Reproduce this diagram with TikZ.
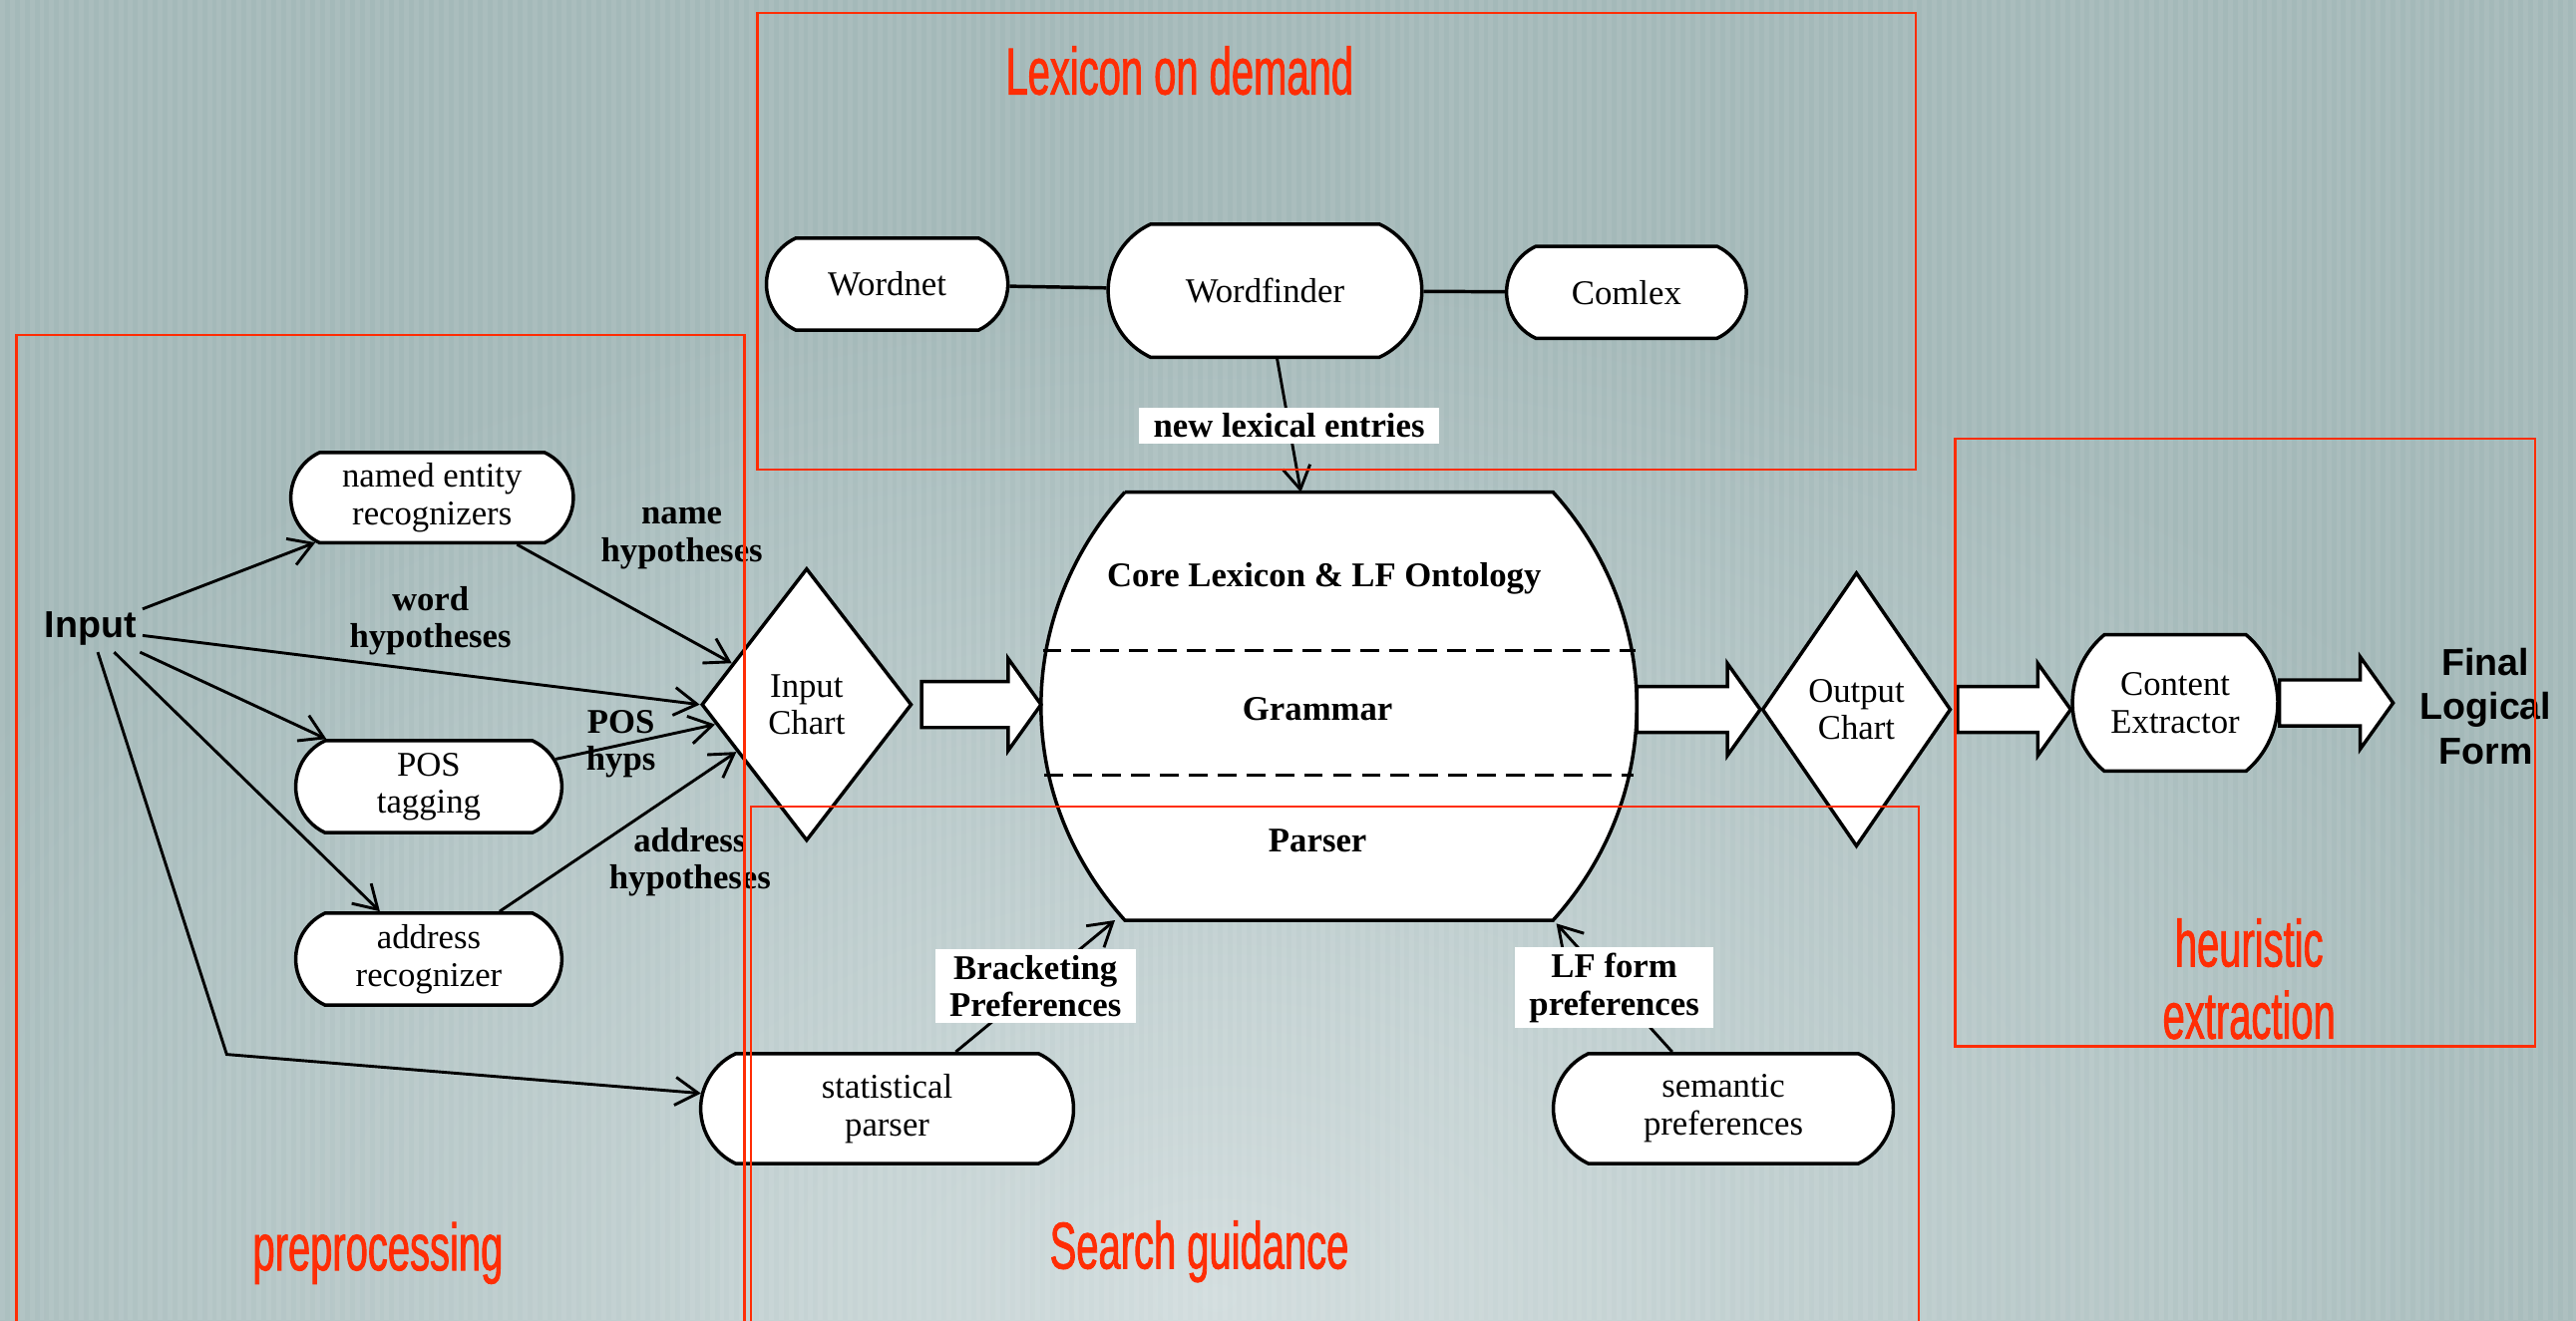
\documentclass[tikz,border=0pt]{standalone}
\usepackage{fontspec}
\setmainfont{Liberation Serif}
\newfontfamily\labelsans{Liberation Sans}
\newfontfamily\regionfont[FakeStretch=0.6, FakeBold=1.2]{Liberation Sans}
\usetikzlibrary{shapes.geometric,shapes.misc,arrows.meta,calc}

\definecolor{bgdark}{RGB}{164,185,185}
\definecolor{bglight}{RGB}{210,221,222}
\definecolor{regionred}{RGB}{255,45,5}

% white block arrow from #1 (shaft start) to #2 (tip)
\newcommand{\fatarrow}[2]{%
  \draw[fatarr] let \p1=#1, \p2=#2 in
    (\x1,\y1+0.28cm) -- (\x2-0.4cm,\y1+0.28cm) -- (\x2-0.4cm,\y1+0.56cm)
    -- (\x2,\y1) -- (\x2-0.4cm,\y1-0.56cm) -- (\x2-0.4cm,\y1-0.28cm)
    -- (\x1,\y1-0.28cm) -- cycle;}

\begin{document}
\begin{tikzpicture}[x=0.02cm, y=-0.02cm,
    box/.style={rounded rectangle, rounded rectangle arc length=130, draw,
      line width=1.2pt, fill=white, inner sep=0pt, align=center,
      font=\fontsize{12}{13}\selectfont},
    chart/.style={diamond, draw, line width=1.2pt, fill=white, inner sep=0pt,
      align=center, font=\fontsize{12}{13}\selectfont},
    region/.style={draw=regionred, line width=0.9pt},
    regionlabel/.style={text=regionred, font=\regionfont\fontsize{23}{25}\selectfont, align=center},
    hyp/.style={font=\bfseries\fontsize{12}{13}\selectfont, align=center, inner sep=0pt},
    pref/.style={hyp, fill=white, inner xsep=5pt, inner ysep=2pt},
    arr/.style={-{Straight Barb[length=2.8mm,width=3.4mm]}, line width=1pt},
    link/.style={line width=1.2pt},
    fatarr/.style={line width=1.2pt, fill=white, line join=miter}
  ]
    \useasboundingbox (0,0) rectangle (1568,804);

    % Background
    \fill[bgdark] (0,0) rectangle (1568,804);
    \begin{scope}
      \clip (0,0) rectangle (1568,804);
      \shade[inner color=bglight, outer color=bgdark] (740,790) ellipse (900 and 620);
      \foreach \x in {0,6,...,1566} {
          \fill[white, opacity=0.07] (\x,0) rectangle ++(3,804);
        }
    \end{scope}

    % Lexicon nodes
    \node[box, minimum width=2.94cm, minimum height=1.12cm] (wordnet) at (540,173) {Wordnet};
    \node[box, minimum width=3.82cm, minimum height=1.62cm] (wordfinder) at (770,177) {Wordfinder};
    \node[box, minimum width=2.92cm, minimum height=1.12cm] (comlex) at (990,178) {Comlex};

    % Preprocessing nodes
    \node[font=\labelsans\bfseries\fontsize{13}{15}\selectfont, inner sep=2pt] (inp) at (55,383) {Input};
    \node[box, minimum width=3.44cm, minimum height=1.1cm] (ner) at (263,303) {named entity\\recognizers};
    \node[box, minimum width=3.24cm, minimum height=1.12cm] (pos) at (261,479) {POS\\tagging};
    \node[box, minimum width=3.24cm, minimum height=1.12cm] (addr) at (261,584) {address\\recognizer};

    % Charts and core
    \node[chart, minimum width=2.56cm, minimum height=3.32cm] (ichart) at (491,429) {Input\\Chart};
    \node[minimum width=5.2cm, minimum height=5.2cm, inner sep=0pt] (core) at (815,430) {};
    \draw[line width=1.2pt, fill=white] (core.north west) -- (core.north east)
      to[bend left=42] (core.south east) -- (core.south west)
      to[bend left=42] (core.north west);
    \coordinate (corewest) at ($(core.west)+(-51,0)$);
    \coordinate (coreeast) at ($(core.east)+(51,0)$);
    \node[hyp] (corelex) at (806,352) {Core Lexicon \& LF Ontology};
    \node[hyp] (grammar) at (802,432) {Grammar};
    \node[hyp] (parser) at (802,512) {Parser};
    \draw[line width=1.2pt, dash pattern=on 6.5pt off 3.5pt] ($(corewest)+(1,-34)$) -- ($(coreeast)+(-1,-34)$);
    \draw[line width=1.2pt, dash pattern=on 6.5pt off 3.5pt] ($(corewest)+(2,42)$) -- ($(coreeast)+(-2,42)$);
    \node[chart, minimum width=2.3cm, minimum height=3.34cm] (ochart) at (1130,432) {Output\\Chart};

    % Extraction
    \node[box, rounded rectangle arc length=100, minimum width=2.5cm, minimum height=1.66cm] (extract) at (1324,428) {Content\\Extractor};
    \node[font=\labelsans\bfseries\fontsize{13}{15.3}\selectfont, align=center, inner sep=0pt] (final) at (1513,430) {Final\\Logical\\Form};

    % Search guidance nodes
    \node[box, minimum width=4.54cm, minimum height=1.34cm] (stat) at (540,675) {statistical\\parser};
    \node[box, minimum width=4.14cm, minimum height=1.34cm] (sem) at (1049,675) {semantic\\preferences};

    % Block arrows
    \fatarrow{($(ichart.east)+(5,0)$)}{(corewest)}
    \fatarrow{(coreeast |- ochart.west)}{(ochart.west)}
    \fatarrow{($(ochart.east)+(3,0)$)}{(extract.west)}
    \fatarrow{(extract.east)}{($(final.west)+(-16,0)$)}

    % Connectors
    \draw[link] (wordnet) -- (wordfinder);
    \draw[link] (wordfinder) -- (comlex);
    \draw[arr] (wordfinder) -- (core) node[pref, midway] (newlex) {new lexical entries};

    \draw[arr] (inp) -- (ner);
    \draw[arr] (inp) -- (ichart.west);
    \draw[arr] (inp) -- (pos);
    \draw[arr] (inp) -- (addr);
    \coordinate (statbend) at (138,642);
    \draw[arr] (inp) -- (statbend) -- (stat);

    \draw[arr] (ner) -- (ichart);
    \draw[arr] (pos) -- (ichart);
    \draw[arr] (addr) -- (ichart);

    \draw[arr] (stat) -- ($(core.south west)+(-6,0)$) node[pref, midway] (bracket) {Bracketing\\Preferences};
    \draw[arr] (sem) -- ($(core.south east)+(2,2)$) node[pref, midway] (lfpref) {LF form\\preferences};

    % Edge labels
    \node[hyp] (namehyp) at (415,328) {name\\hypotheses};
    \node[hyp] (wordhyp) at (262,378) {word\\hypotheses};
    \node[hyp] (poshyp) at (378,453) {POS\\hyps};
    \node[hyp] (addrhyp) at (420,525) {address\\hypotheses};

    % Regions
    \draw[region] (10,204) rectangle (453,812);
    \draw[region] (461,8) rectangle (1166,286);
    \draw[region] (457,491) rectangle (1168,812);
    \draw[region] (1190,267) rectangle (1543,637);
    \node[regionlabel] (lexlab) at (718,43) {Lexicon on demand};
    \node[regionlabel] (prelab) at (230,763) {preprocessing};
    \node[regionlabel] (searchlab) at (730,762) {Search guidance};
    \node[regionlabel] (heurlab) at (1369,596) {heuristic\\extraction};
  \end{tikzpicture}
\end{document}
